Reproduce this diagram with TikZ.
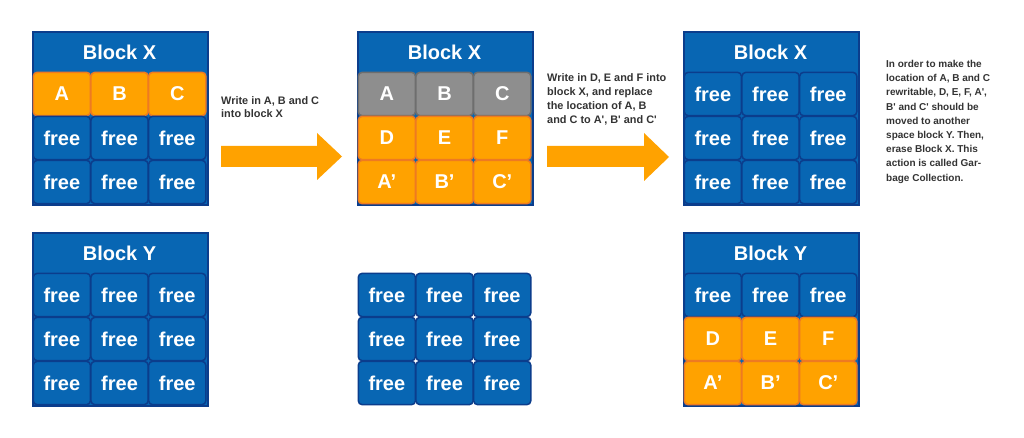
\documentclass[tikz,border=0pt]{standalone}
\usepackage{fontspec}
\setmainfont{Liberation Sans}
\definecolor{bfill}{HTML}{0866B3}
\definecolor{bdark}{HTML}{0B3D8C}
\definecolor{ofill}{HTML}{FFA200}
\definecolor{odark}{HTML}{EE7A22}
\definecolor{gfill}{HTML}{8E8E8E}
\definecolor{gdark}{HTML}{6E6E6E}
\definecolor{txt}{HTML}{333333}
\tikzset{
  blockbox/.style={draw=bdark, line width=2pt, fill=bfill, minimum width=175pt, minimum height=173pt, anchor=north west, inner sep=0pt},
  cellbase/.style={rounded corners=4pt, line width=1.5pt, minimum width=57.2pt, minimum height=43.4pt, inner sep=0pt, text=white, font=\bfseries\fontsize{20}{20}\selectfont},
  freecell/.style={cellbase, fill=bfill, draw=bdark},
  ocell/.style={cellbase, fill=ofill, draw=odark},
  gcell/.style={cellbase, fill=gfill, draw=gdark},
  title/.style={text=white, inner sep=0pt, font=\bfseries\fontsize{20}{20}\selectfont},
  note/.style={text=txt, font=\bfseries\fontsize{10.9}{13.5}\selectfont, align=left, anchor=north west, inner sep=0pt},
  notemid/.style={note, font=\bfseries\fontsize{10.9}{14}\selectfont},
  notewide/.style={note, font=\bfseries\fontsize{10}{14.2}\selectfont},
  bigarrow/.style={fill=ofill, draw=none},
}
\newcommand\gridrow[5]{%
  \foreach \c/\t in {#5} {
    \node[#4] (#1\c) at ({#2+1+(\c+0.5)*57.7},{#3+22}) {\t};
  }%
}
\begin{document}
\begin{tikzpicture}[x=1pt,y=-1pt]
\useasboundingbox (0,0) rectangle (1024,438);
\fill[white] (0,0) rectangle (1024,438);

% ---- Block X (step 1)
\node[blockbox] (bx1) at (32,31) {};
\node[title] (tx1) at (119.5,52) {Block X};
\gridrow{x1a}{32}{72}{ocell}{0/A,1/B,2/C}
\gridrow{x1b}{32}{116}{freecell}{0/free,1/free,2/free}
\gridrow{x1c}{32}{160}{freecell}{0/free,1/free,2/free}

% ---- Block Y (step 1)
\node[blockbox] (by1) at (32,232) {};
\node[title] (ty1) at (119.5,253) {Block Y};
\gridrow{y1a}{32}{273}{freecell}{0/free,1/free,2/free}
\gridrow{y1b}{32}{317}{freecell}{0/free,1/free,2/free}
\gridrow{y1c}{32}{361}{freecell}{0/free,1/free,2/free}

% ---- Block X (step 2)
\node[blockbox] (bx2) at (357,31) {};
\node[title] (tx2) at (444.5,52) {Block X};
\gridrow{x2a}{357}{72}{gcell}{0/A,1/B,2/C}
\gridrow{x2b}{357}{116}{ocell}{0/D,1/E,2/F}
\gridrow{x2c}{357}{160}{ocell}{0/A’,1/B’,2/C’}

% ---- free cells (step 2)
\gridrow{m2a}{357}{273}{freecell}{0/free,1/free,2/free}
\gridrow{m2b}{357}{317}{freecell}{0/free,1/free,2/free}
\gridrow{m2c}{357}{361}{freecell}{0/free,1/free,2/free}

% ---- Block X (step 3)
\node[blockbox] (bx3) at (683,31) {};
\node[title] (tx3) at (770.5,52) {Block X};
\gridrow{x3a}{683}{72}{freecell}{0/free,1/free,2/free}
\gridrow{x3b}{683}{116}{freecell}{0/free,1/free,2/free}
\gridrow{x3c}{683}{160}{freecell}{0/free,1/free,2/free}

% ---- Block Y (step 3)
\node[blockbox] (by3) at (683,232) {};
\node[title] (ty3) at (770.5,253) {Block Y};
\gridrow{y3a}{683}{273}{freecell}{0/free,1/free,2/free}
\gridrow{y3b}{683}{317}{ocell}{0/D,1/E,2/F}
\gridrow{y3c}{683}{361}{ocell}{0/A’,1/B’,2/C’}

% ---- arrows
\fill[bigarrow] (221,146) -- (317,146) -- (317,133) -- (342,156.5) -- (317,180) -- (317,167) -- (221,167) -- cycle;
\fill[bigarrow] (547,146) -- (644,146) -- (644,133) -- (669,157) -- (644,181) -- (644,167) -- (547,167) -- cycle;

% ---- notes
\node[note] (n1) at (221,96) {Write in A, B and C\\into block X};
\node[notemid] (n2) at (547,73) {Write in D, E and F into\\block X, and replace\\the location of A, B\\and C to A\textquotesingle, B\textquotesingle\ and C\textquotesingle};
\node[notewide] (n3) at (886,60) {In order to make the\\location of A, B and C\\rewritable, D, E, F, A\textquotesingle,\\B\textquotesingle\ and C\textquotesingle\ should be\\moved to another\\space block Y. Then,\\erase Block X. This\\action is called Gar-\\bage Collection.};
\end{tikzpicture}
\end{document}
